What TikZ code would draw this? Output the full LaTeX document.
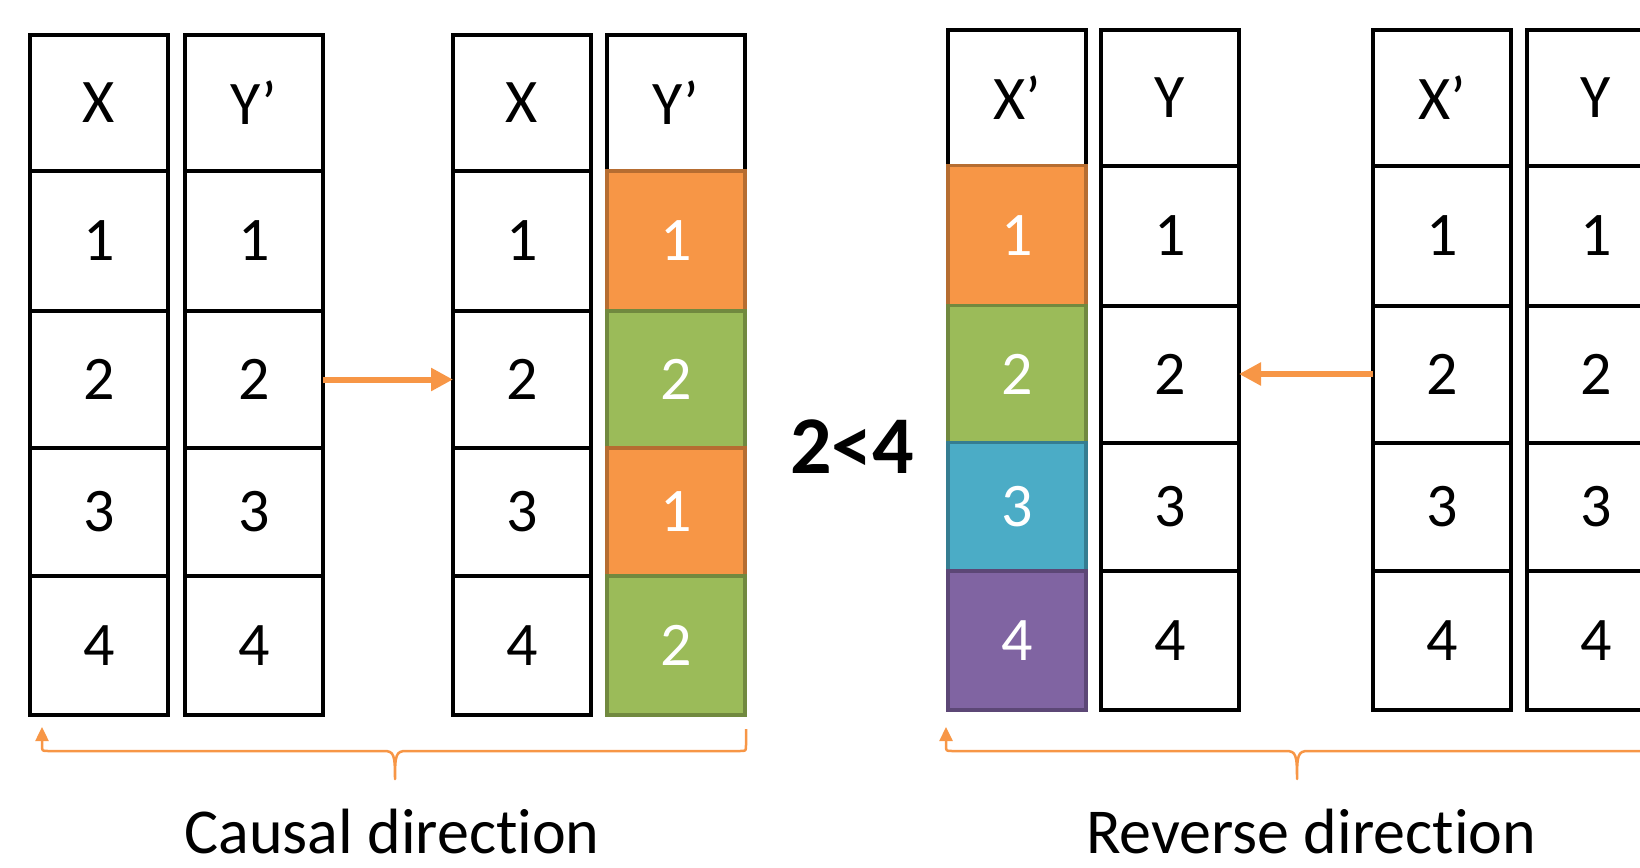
\documentclass[tikz,border=0pt]{standalone}
\usepackage{fontspec}
\setmainfont{Carlito}[Ligatures=NoCommon]
\usetikzlibrary{arrows.meta}
\definecolor{orF}{HTML}{F79646}
\definecolor{orD}{HTML}{B66D31}
\definecolor{grF}{HTML}{9BBB59}
\definecolor{grD}{HTML}{71893F}
\definecolor{blF}{HTML}{4BACC6}
\definecolor{blD}{HTML}{357D91}
\definecolor{puF}{HTML}{8064A2}
\definecolor{puD}{HTML}{5C4776}
\newcommand\mkcell[6]{%
  \pgfmathsetmacro\cx{#2+69}\pgfmathsetmacro\cy{(#3+#4)/2}\pgfmathsetmacro\ch{#4-#3}%
  \node[#5, minimum height=\ch pt] (#1) at (\cx,\cy) {#6};}
\tikzset{
  cell/.style={draw=black, line width=4pt, fill=white, minimum width=138pt, inner sep=0pt, outer sep=0pt,
    font=\fontsize{62}{62}\selectfont},
  ccell/.style={cell, line width=3.5pt, text=white},
  ocell/.style={ccell, fill=orF, draw=orD},
  gcell/.style={ccell, fill=grF, draw=grD},
  bcell/.style={ccell, fill=blF, draw=blD},
  pcell/.style={ccell, fill=puF, draw=puD},
  conn/.style={draw=orF, line width=6pt, -{Triangle[length=22pt,width=22pt]}},
  bracep/.style={draw=orF, line width=2.5pt, {Triangle[length=14pt,width=13pt]}-, line join=round},
  lbl/.style={font=\fontsize{64}{64}\selectfont, anchor=base},
}
\begin{document}
\begin{tikzpicture}[x=1pt,y=-1pt]
\useasboundingbox (0,0) rectangle (1640,867);
\clip (0,0) rectangle (1640,867);
% ---- left group
\mkcell{A0}{30}{35}{171}{cell}{X}
\mkcell{A1}{30}{171}{311}{cell}{1}
\mkcell{A2}{30}{311}{448}{cell}{2}
\mkcell{A3}{30}{448}{576}{cell}{3}
\mkcell{A4}{30}{576}{715}{cell}{4}
\mkcell{B0}{185}{35}{171}{cell}{Y’}
\mkcell{B1}{185}{171}{311}{cell}{1}
\mkcell{B2}{185}{311}{448}{cell}{2}
\mkcell{B3}{185}{448}{576}{cell}{3}
\mkcell{B4}{185}{576}{715}{cell}{4}
\mkcell{C0}{453}{35}{171}{cell}{X}
\mkcell{C1}{453}{171}{311}{cell}{1}
\mkcell{C2}{453}{311}{448}{cell}{2}
\mkcell{C3}{453}{448}{576}{cell}{3}
\mkcell{C4}{453}{576}{715}{cell}{4}
\mkcell{D0}{607}{35}{171}{cell}{Y’}
\mkcell{D1}{607}{171}{311}{ocell}{1}
\mkcell{D2}{607}{311}{448}{gcell}{2}
\mkcell{D3}{607}{448}{576}{ocell}{1}
\mkcell{D4}{607}{576}{715}{gcell}{2}
% ---- right group
\mkcell{E0}{948}{30}{165.5}{cell}{X’}
\mkcell{E1}{948}{165.5}{305.5}{ocell}{1}
\mkcell{E2}{948}{305.5}{442.5}{gcell}{2}
\mkcell{E3}{948}{442.5}{571}{bcell}{3}
\mkcell{E4}{948}{571}{710}{pcell}{4}
\mkcell{F0}{1101}{30}{165.5}{cell}{Y}
\mkcell{F1}{1101}{165.5}{305.5}{cell}{1}
\mkcell{F2}{1101}{305.5}{442.5}{cell}{2}
\mkcell{F3}{1101}{442.5}{571}{cell}{3}
\mkcell{F4}{1101}{571}{710}{cell}{4}
\mkcell{G0}{1373}{30}{165.5}{cell}{X’}
\mkcell{G1}{1373}{165.5}{305.5}{cell}{1}
\mkcell{G2}{1373}{305.5}{442.5}{cell}{2}
\mkcell{G3}{1373}{442.5}{571}{cell}{3}
\mkcell{G4}{1373}{571}{710}{cell}{4}
\mkcell{H0}{1527}{30}{165.5}{cell}{Y}
\mkcell{H1}{1527}{165.5}{305.5}{cell}{1}
\mkcell{H2}{1527}{305.5}{442.5}{cell}{2}
\mkcell{H3}{1527}{442.5}{571}{cell}{3}
\mkcell{H4}{1527}{571}{710}{cell}{4}
% ---- arrows
\draw[conn] (B2.east) -- (C2.west);
\draw[conn] (G2.west) -- (F2.east);
% ---- comparison
\node[font=\fontsize{82}{82}\selectfont\bfseries] (cmp) at (852,447) {2<4};
% ---- braces
\coordinate (lbs) at (42,727);
\coordinate (lbe) at (746,729);
\draw[bracep] (lbs) -- (42,745) .. controls (42,751) .. (48,751) -- (384,751)
  .. controls (394,751) and (395,755) .. (395,779)
  .. controls (395,755) and (396,751) .. (406,751) -- (740,751)
  .. controls (746,751) .. (746,745) -- (lbe);
\coordinate (rbs) at (946,727);
\coordinate (rbe) at (1648,729);
\draw[bracep] (rbs) -- (946,745) .. controls (946,751) .. (952,751) -- (1286,751)
  .. controls (1296,751) and (1297,755) .. (1297,779)
  .. controls (1297,755) and (1298,751) .. (1308,751) -- (1642,751)
  .. controls (1648,751) .. (1648,745) -- (rbe);
% ---- labels
\node[lbl] (cd) at (392,853) {Causal direct\kern0pt ion};
\node[lbl] (rd) at (1311,853) {Reverse direct\kern0pt ion};
\end{tikzpicture}
\end{document}
